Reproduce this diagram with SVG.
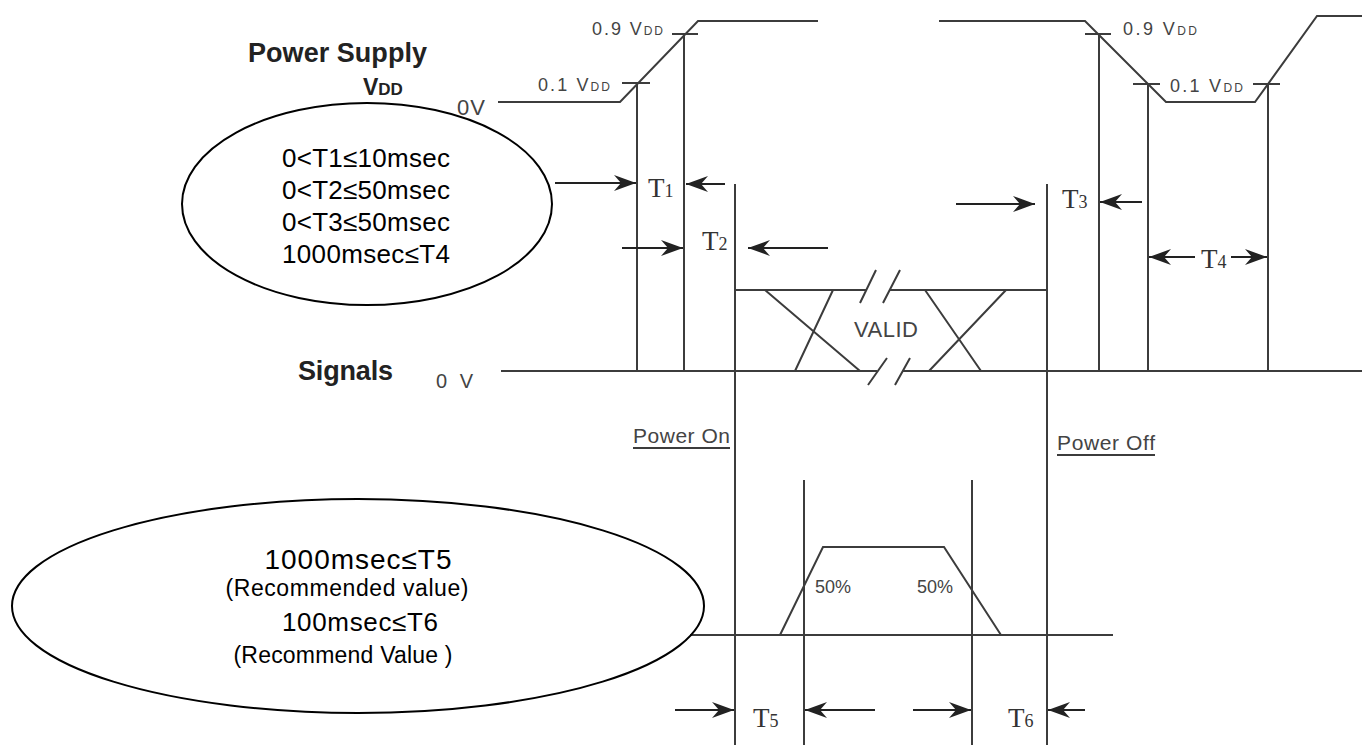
<svg xmlns="http://www.w3.org/2000/svg" width="1362" height="745" viewBox="0 0 1362 745">
<style>
.w{fill:none;stroke:#3c3c3c;stroke-width:2}
.a{fill:none;stroke:#222;stroke-width:2}
.el{fill:none;stroke:#000;stroke-width:2}
.lb{font-family:"Liberation Sans",Arial,sans-serif;fill:#444}
.hd{font-family:"Liberation Sans",Arial,sans-serif;font-weight:bold;fill:#222}
.et{font-family:"Liberation Sans",Arial,sans-serif;fill:#000;text-anchor:middle}
.tt{font-family:"Liberation Serif","Times New Roman",serif;fill:#333}
</style>
<defs>
<marker id="ah" viewBox="0 0 22 16" refX="22" refY="8" markerWidth="22" markerHeight="16" orient="auto" markerUnits="userSpaceOnUse">
<path d="M0,0 L22,8 L0,16 L7,8 Z" fill="#222"/>
</marker>
</defs>
<rect width="1362" height="745" fill="#fff"/>

<g id="titles">
<text class="hd" x="248" y="62" font-size="27" textLength="179">Power Supply</text>
<text class="hd" x="363" y="95" font-size="23">V<tspan font-size="17">DD</tspan></text>
<text class="lb" x="457" y="115" font-size="22" textLength="28">0V</text>
<text class="hd" x="298" y="380" font-size="27" textLength="95">Signals</text>
<text class="lb" x="436" y="388" font-size="20" textLength="37">0 V</text>
</g>

<g id="power-supply-waveform">
<path class="w" d="M498,102 L620,102 L698,21 L818,21"/>
<path class="w" d="M939,21 L1085,21 L1166,102 L1255,102 L1317,16 L1362,16"/>
<path class="w" d="M622,83 H650 M672,34 H698 M1085,34 H1111 M1133,84 H1160 M1253,84 H1280"/>
<text class="lb" x="592" y="35" font-size="18" textLength="71">0.9 V<tspan font-size="12">DD</tspan></text>
<text class="lb" x="538" y="91" font-size="18" textLength="72">0.1 V<tspan font-size="12">DD</tspan></text>
<text class="lb" x="1123" y="35" font-size="18" textLength="74">0.9 V<tspan font-size="12">DD</tspan></text>
<text class="lb" x="1170" y="92" font-size="18" textLength="73">0.1 V<tspan font-size="12">DD</tspan></text>
</g>

<g id="timing-lines">
<path class="w" d="M637,83 V371 M684,34 V371 M735,184 V745 M1047,184 V745 M1099,34 V371 M1148,84 V371 M1268,84 V371 M804,480 V745 M972,480 V745"/>
</g>

<g id="signals-valid">
<path class="w" d="M501,371 H877 M902,371 H1362"/>
<path class="w" d="M735,290 H866 M890,290 H1047"/>
<path class="w" d="M860,303 L876,270 M883,303 L900,270 M868,385 L887,358 M895,385 L910,358"/>
<path class="w" d="M765,290 L860,371 M833,290 L795,371 M925,290 L981,371 M1006,290 L929,371"/>
<text class="lb" x="854" y="337" font-size="22" textLength="64">VALID</text>
</g>

<g id="power-labels">
<text class="lb" x="633" y="443" font-size="21" textLength="97">Power On</text>
<path class="w" d="M633,448 H730"/>
<text class="lb" x="1057" y="450" font-size="21" textLength="98">Power Off</text>
<path class="w" d="M1057,455 H1155"/>
</g>

<g id="pulse">
<path class="w" d="M690,635 H1113"/>
<path class="w" d="M780,635 L823,547 H944 L1001,635"/>
<text class="lb" x="815" y="593" font-size="18">50%</text>
<text class="lb" x="917" y="593" font-size="18">50%</text>
</g>

<g id="connectors">
<path class="a" marker-end="url(#ah)" d="M555,183 H636"/>
<path class="a" marker-end="url(#ah)" d="M725,184 H686"/>
<path class="a" marker-end="url(#ah)" d="M622,248 H683"/>
<path class="a" marker-end="url(#ah)" d="M828,248 H748"/>
<path class="a" marker-end="url(#ah)" d="M956,204 H1035"/>
<path class="a" marker-end="url(#ah)" d="M1142,202 H1100"/>
<path class="a" marker-end="url(#ah)" d="M1195,257 H1149"/>
<path class="a" marker-end="url(#ah)" d="M1231,257 H1267"/>
<path class="a" marker-end="url(#ah)" d="M675,710 H734"/>
<path class="a" marker-end="url(#ah)" d="M875,710 H805"/>
<path class="a" marker-end="url(#ah)" d="M913,710 H971"/>
<path class="a" marker-end="url(#ah)" d="M1085,710 H1048"/>
</g>

<g id="time-labels">
<text class="tt" x="648" y="197" font-size="27">T<tspan font-size="18">1</tspan></text>
<text class="tt" x="702" y="250" font-size="27">T<tspan font-size="18">2</tspan></text>
<text class="tt" x="1062" y="208" font-size="27">T<tspan font-size="18">3</tspan></text>
<text class="tt" x="1201" y="268" font-size="27">T<tspan font-size="18">4</tspan></text>
<text class="tt" x="753" y="727" font-size="27">T<tspan font-size="18">5</tspan></text>
<text class="tt" x="1008" y="727" font-size="27">T<tspan font-size="18">6</tspan></text>
</g>

<g id="note-t1-t4">
<ellipse class="el" cx="367" cy="204" rx="185" ry="101"/>
<text class="et" x="366" y="167" font-size="26" textLength="168">0&lt;T1≤10msec</text>
<text class="et" x="366" y="199" font-size="26" textLength="168">0&lt;T2≤50msec</text>
<text class="et" x="366" y="231" font-size="26" textLength="168">0&lt;T3≤50msec</text>
<text class="et" x="366" y="263" font-size="26" textLength="168">1000msec≤T4</text>
</g>

<g id="note-t5-t6">
<ellipse class="el" cx="358" cy="606" rx="346" ry="107"/>
<text class="et" x="358" y="569" font-size="28" textLength="187">1000msec≤T5</text>
<text class="et" x="347" y="596" font-size="23" textLength="243">(Recommended value)</text>
<text class="et" x="360" y="631" font-size="26" textLength="156">100msec≤T6</text>
<text class="et" x="343" y="663" font-size="23" textLength="219">(Recommend Value )</text>
</g>
</svg>
